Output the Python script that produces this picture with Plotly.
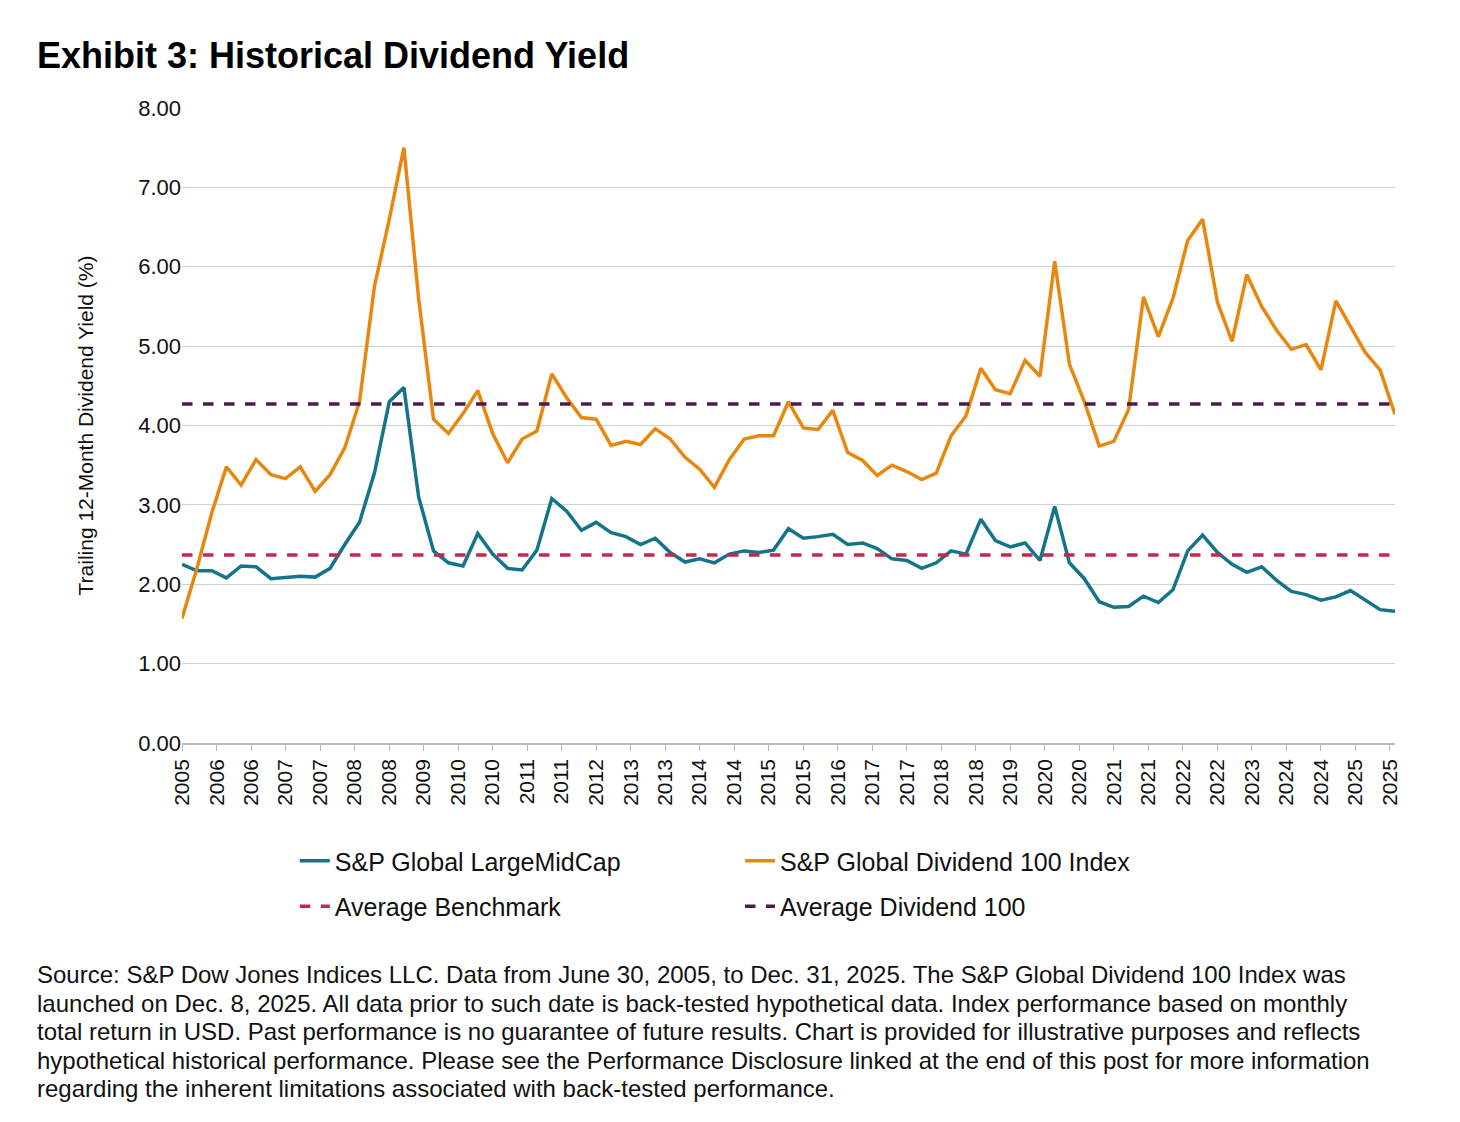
import plotly.graph_objects as go
import pandas as pd

dates = pd.date_range("2005-06-30", "2025-12-31", freq="QE").strftime("%Y-%m-%d").tolist()

dividend100 = [1.57, 2.2, 2.9, 3.48, 3.25, 3.57, 3.38, 3.33, 3.48, 3.17, 3.38, 3.72,
               4.3, 5.75, 6.6, 7.5, 5.6, 4.08, 3.9, 4.15, 4.44, 3.9, 3.53, 3.83, 3.93, 4.65,
               4.35, 4.1, 4.08, 3.75, 3.8, 3.76, 3.96, 3.83, 3.6, 3.45, 3.22, 3.57, 3.83, 3.87,
               3.87, 4.3, 3.97, 3.95, 4.19, 3.66, 3.56, 3.37, 3.5, 3.42, 3.32, 3.4, 3.87, 4.12,
               4.72, 4.45, 4.4, 4.82, 4.62, 6.07, 4.77, 4.3, 3.74, 3.8, 4.2, 5.62, 5.12, 5.6,
               6.33, 6.6, 5.55, 5.06, 5.9, 5.5, 5.2, 4.96, 5.02, 4.7, 5.57, 5.25, 4.92, 4.7, 4.14]

largemid = [2.25, 2.17, 2.17, 2.08, 2.23, 2.22, 2.07, 2.09, 2.1, 2.09, 2.2, 2.5,
            2.78, 3.4, 4.3, 4.48,
            3.1, 2.42, 2.27, 2.23, 2.64, 2.38, 2.2, 2.18, 2.43, 3.08,
            2.92, 2.68, 2.78, 2.65, 2.6, 2.5, 2.58, 2.4, 2.28, 2.32,
            2.27, 2.38, 2.42, 2.4, 2.43, 2.7, 2.58, 2.6, 2.63, 2.5,
            2.52, 2.45, 2.32, 2.3, 2.2, 2.27, 2.42, 2.38, 2.82, 2.55,
            2.47, 2.52, 2.3, 2.98,
            2.27, 2.07, 1.78, 1.71, 1.72, 1.85, 1.77, 1.93, 2.42, 2.62, 2.4, 2.25,
            2.15, 2.22, 2.05, 1.91, 1.87, 1.8, 1.84, 1.92, 1.8, 1.68, 1.66]

avg_benchmark = 2.37
avg_dividend100 = 4.27

tick_dates = pd.date_range("2005-06-30", periods=36, freq="7ME")
tick_vals = tick_dates.strftime("%Y-%m-%d").tolist()
tick_text = tick_dates.strftime("%Y").tolist()

footnote_lines = [
    "Source: S&P Dow Jones Indices LLC. Data from June 30, 2005, to Dec. 31, 2025. The S&P Global Dividend 100 Index was",
    "launched on Dec. 8, 2025. All data prior to such date is back-tested hypothetical data. Index performance based on monthly",
    "total return in USD. Past performance is no guarantee of future results. Chart is provided for illustrative purposes and reflects",
    "hypothetical historical performance. Please see the Performance Disclosure linked at the end of this post for more information",
    "regarding the inherent limitations associated with back-tested performance.",
]

fig = go.Figure()
fig.add_trace(go.Scatter(x=dates, y=largemid, mode="lines", name="S&P Global LargeMidCap",
                         line=dict(color="#157489", width=3.5), legend="legend", legendgroup="a"))
fig.add_trace(go.Scatter(x=[dates[0], dates[-1]], y=[avg_benchmark]*2, mode="lines", name="Average Benchmark",
                         line=dict(color="#C5284F", width=3.5, dash="dash"), legend="legend", legendgroup="b"))
fig.add_trace(go.Scatter(x=dates, y=dividend100, mode="lines", name="S&P Global Dividend 100 Index",
                         line=dict(color="#E8870E", width=3.5), legend="legend2", legendgroup="c"))
fig.add_trace(go.Scatter(x=[dates[0], dates[-1]], y=[avg_dividend100]*2, mode="lines", name="Average Dividend 100",
                         line=dict(color="#4B1A50", width=3.5, dash="dash"), legend="legend2", legendgroup="d"))

font = "Liberation Sans, Arial, sans-serif"
plot_h = 635
def py(page_y):
    return (735 - (page_y - 8)) / plot_h

annotations = [
    dict(text="<b>Exhibit 3: Historical Dividend Yield</b>", xref="paper", yref="paper",
         x=-0.1212, y=py(55), xanchor="left", yanchor="middle", showarrow=False,
         font=dict(size=36, color="#000")),
]
for i, line in enumerate(footnote_lines):
    annotations.append(dict(text=line, xref="paper", yref="paper", x=-0.1212, y=py(975 + 28.4 * i),
                            xanchor="left", yanchor="middle", showarrow=False, align="left",
                            font=dict(size=24, color="#111")))

leg_common = dict(orientation="v", yanchor="top", font=dict(size=25), tracegroupgap=10,
                  bgcolor="rgba(0,0,0,0)")
fig.update_layout(
    width=1460, height=1122,
    margin=dict(l=174, r=73, t=100, b=387),
    plot_bgcolor="white", paper_bgcolor="white",
    font=dict(family=font, size=20, color="#111"),
    showlegend=True,
    legend=dict(x=0.093, xanchor="left", y=py(838), **leg_common),
    legend2=dict(x=0.46, xanchor="left", y=py(838), **leg_common),
    xaxis=dict(range=[dates[0], dates[-1]], tickvals=tick_vals, ticktext=tick_text,
               tickangle=-90, showgrid=False, showline=True, linecolor="#bbb", linewidth=1.5,
               ticks="outside", ticklen=6, tickcolor="#bbb", tickfont=dict(size=21)),
    yaxis=dict(range=[0, 8], dtick=1, tickformat=".2f", showgrid=True, gridcolor="#d0d0d0",
               zeroline=False, tickfont=dict(size=22),
               title=dict(text="Trailing 12-Month Dividend Yield (%)", font=dict(size=21), standoff=38)),
    annotations=annotations,
)

fig.write_html("out.html")
